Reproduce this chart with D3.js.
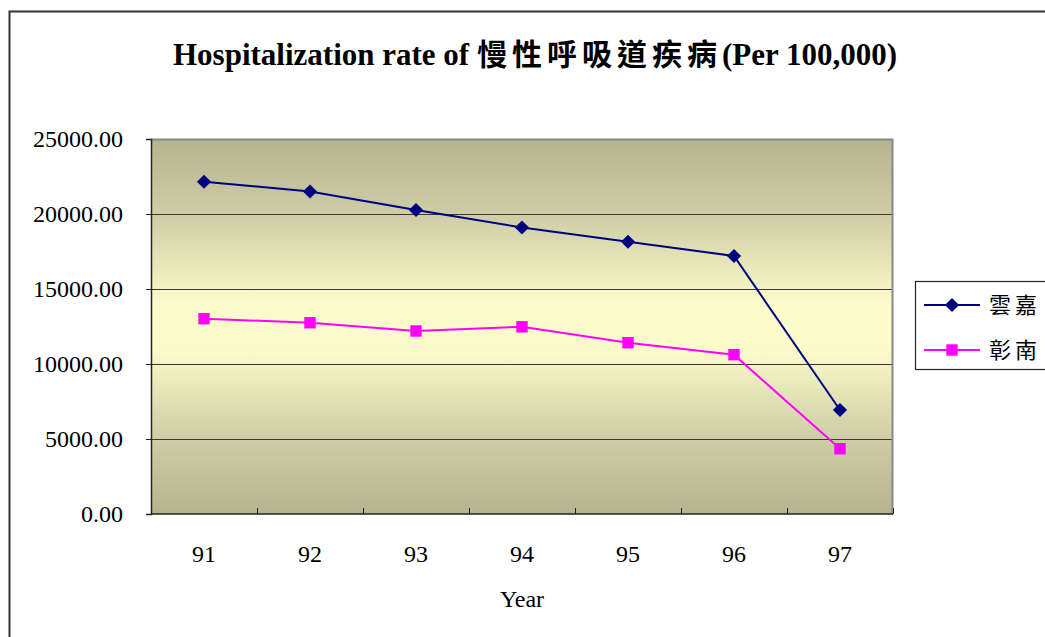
<!DOCTYPE html>
<html>
<head>
<meta charset="utf-8">
<script src="https://cdn.jsdelivr.net/npm/d3@7"></script>
<style>
  html, body { margin: 0; padding: 0; background: #fff; }
  svg { display: block; }
  text { font-family: "Liberation Serif", "Times New Roman", serif; fill: #000; }
  .cjk { font-family: "Noto Sans CJK TC", "Noto Sans CJK SC", sans-serif; }
</style>
</head>
<body>
<svg id="chart" width="1045" height="637"></svg>
<script>
// Years (ROC calendar) and hospitalization rates per 100,000
const years = ["91", "92", "93", "94", "95", "96", "97"];
const yunjia = [22150, 21500, 20270, 19100, 18150, 17200, 6930];
const zhangnan = [13020, 12750, 12200, 12480, 11420, 10620, 4350];
const seriesNames = ["雲嘉", "彰南"];
const yTicks = [0, 5000, 10000, 15000, 20000, 25000];

const svg = d3.select("#chart");
const plot = { left: 151, top: 139, right: 893, bottom: 514 };

// Outer chart frame (runs off the right and bottom edges)
svg.append("rect")
  .attr("x", 9.5).attr("y", 11.5)
  .attr("width", 1100).attr("height", 700)
  .attr("fill", "#fff").attr("stroke", "#333").attr("stroke-width", 2);

// Plot background gradient
const defs = svg.append("defs");
const grad = defs.append("linearGradient")
  .attr("id", "bg").attr("x1", 0).attr("y1", 0).attr("x2", 0).attr("y2", 1);
[[0, "#b4b48f"], [0.2, "#cdcda6"], [0.44, "#fbfbcb"], [0.56, "#fbfbcb"], [0.8, "#cdcda6"], [1, "#b4b48f"]]
  .forEach(([o, c]) => grad.append("stop").attr("offset", o).attr("stop-color", c));

const x = d3.scaleBand().domain(years).range([plot.left, plot.right]);
const y = d3.scaleLinear().domain([0, 25000]).range([plot.bottom, plot.top]);

svg.append("rect")
  .attr("x", plot.left).attr("y", plot.top)
  .attr("width", plot.right - plot.left).attr("height", plot.bottom - plot.top)
  .attr("fill", "url(#bg)");

// Horizontal gridlines
svg.append("g").selectAll("line")
  .data(yTicks.filter(v => v > 0 && v < 25000))
  .join("line")
  .attr("x1", plot.left).attr("x2", plot.right)
  .attr("y1", d => Math.round(y(d)) + 0.5).attr("y2", d => Math.round(y(d)) + 0.5)
  .attr("stroke", "#3a3a30").attr("stroke-width", 1.2);

// Plot frame: grey top and right edges
svg.append("path")
  .attr("d", `M${plot.left},${plot.top + 0.5}H${plot.right - 0.5}V${plot.bottom}`)
  .attr("fill", "none").attr("stroke", "#888").attr("stroke-width", 2);

// Y axis
const yAxis = d3.axisLeft(y).tickValues(yTicks).tickSize(5).tickPadding(23)
  .tickFormat(d3.format(".2f"));
const gy = svg.append("g").attr("transform", `translate(${plot.left},0)`).call(yAxis)
  .attr("font-family", null).attr("font-size", null);
gy.select(".domain").attr("stroke", "#222").attr("stroke-width", 1.5);
gy.selectAll(".tick line").attr("stroke", "#222");
gy.selectAll(".tick text")
  .style("font-family", "'Liberation Serif', serif").style("font-size", "24px")
  .attr("fill", "#000");

// X axis: ticks between categories, pointing inward
const gx = svg.append("g").attr("transform", `translate(0,${plot.bottom})`);
gx.append("line")
  .attr("x1", plot.left).attr("x2", plot.right)
  .attr("stroke", "#222").attr("stroke-width", 1.5);
const bounds = years.map(d => x(d)).concat([x(years[years.length - 1]) + x.bandwidth()]);
gx.selectAll(".bt").data(bounds).join("line")
  .attr("class", "bt")
  .attr("x1", d => Math.round(d) + 0.5).attr("x2", d => Math.round(d) + 0.5)
  .attr("y1", 0).attr("y2", -6)
  .attr("stroke", "#222").attr("stroke-width", 1);
gx.selectAll(".lbl").data(years).join("text")
  .attr("class", "lbl")
  .attr("x", d => x(d) + x.bandwidth() / 2)
  .attr("y", 48)
  .attr("text-anchor", "middle")
  .style("font-size", "24px")
  .text(d => d);

// Axis title
svg.append("text")
  .attr("x", 522).attr("y", 607)
  .attr("text-anchor", "middle")
  .style("font-size", "24px")
  .text("Year");

// Chart title
const title = svg.append("text")
  .attr("x", 535).attr("y", 65)
  .attr("text-anchor", "middle")
  .style("font-size", "31px").style("font-weight", "bold");
title.append("tspan").text("Hospitalization rate of ");
title.append("tspan").attr("class", "cjk")
  .style("font-size", "30px").style("letter-spacing", "5px").style("font-weight", "bold")
  .text("慢性呼吸道疾病");
title.append("tspan").text("(Per 100,000)");

// Series
const cx = d => x(d) + x.bandwidth() / 2;
const series = [
  { name: seriesNames[0], values: yunjia, color: "#000080", shape: d3.symbolSquare, size: 100, rot: 45 },
  { name: seriesNames[1], values: zhangnan, color: "#ff00ff", shape: d3.symbolSquare, size: 130, rot: 0 }
];
const line = d3.line().x((d, i) => cx(years[i])).y(d => y(d));

series.forEach(s => {
  svg.append("path")
    .datum(s.values)
    .attr("d", line)
    .attr("fill", "none")
    .attr("stroke", s.color)
    .attr("stroke-width", 2);
  svg.append("g").selectAll("path")
    .data(s.values)
    .join("path")
    .attr("transform", (d, i) => `translate(${cx(years[i])},${y(d)}) rotate(${s.rot})`)
    .attr("d", d3.symbol().type(s.shape).size(s.size))
    .attr("fill", s.color);
});

// Legend
const lg = svg.append("g");
lg.append("rect")
  .attr("x", 915.5).attr("y", 281.5)
  .attr("width", 200).attr("height", 88)
  .attr("fill", "#fff").attr("stroke", "#222").attr("stroke-width", 1.2);
series.forEach((s, i) => {
  const ly = 305 + i * 45;
  lg.append("line")
    .attr("x1", 924).attr("x2", 980).attr("y1", ly).attr("y2", ly)
    .attr("stroke", s.color).attr("stroke-width", 2);
  lg.append("path")
    .attr("transform", `translate(952,${ly}) rotate(${s.rot})`)
    .attr("d", d3.symbol().type(s.shape).size(s.size))
    .attr("fill", s.color);
  lg.append("text")
    .attr("class", "cjk")
    .attr("x", 989).attr("y", ly + 8)
    .style("font-size", "22px")
    .style("letter-spacing", "4px")
    .text(s.name);
});
</script>
</body>
</html>
